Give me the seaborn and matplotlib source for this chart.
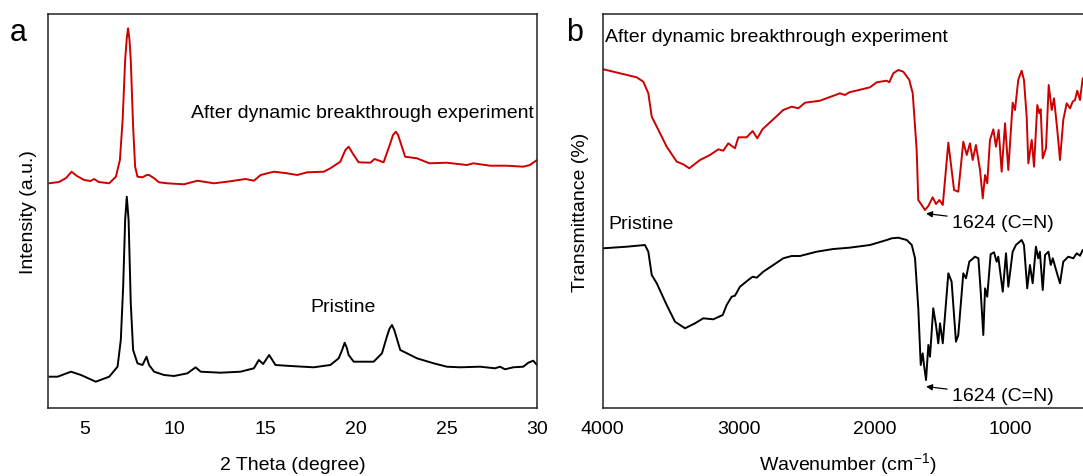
import matplotlib
matplotlib.use("Agg")
import matplotlib.pyplot as plt
import seaborn as sns
import pandas as pd

# ---------------- Panel a: XRD ----------------
xrd_after_theta = [3.07, 3.6, 4.0, 4.30, 4.6, 5.00, 5.35, 5.55, 5.8, 6.38, 6.75, 6.97, 7.12, 7.26, 7.35,
                   7.42, 7.50, 7.57, 7.70, 7.81, 7.94, 8.22, 8.45, 8.58, 8.86, 9.13, 9.59, 10.51, 11.25,
                   12.16, 12.90, 13.91, 14.37, 14.74, 15.47, 16.20, 16.76, 17.31, 18.23, 18.59, 19.14,
                   19.42, 19.60, 19.88, 20.15, 20.80, 21.03, 21.53, 21.90, 22.05, 22.21, 22.33, 22.45,
                   22.72, 23.37, 24.06, 25.02, 26.12, 26.49, 27.41, 28.33, 29.24, 29.61, 30.0]
xrd_after_int = [224.7, 226, 230, 236.3, 232, 228, 227, 229, 226, 224.7, 231.3, 248, 288, 348, 370,
                 379.7, 368, 348, 281.3, 241.3, 231.3, 230.7, 233, 233, 229.7, 225.7, 224.7, 223.7, 227.3,
                 224.7, 226.3, 229, 227.3, 233, 236.3, 234.7, 233, 235.7, 236.3, 239.7, 246.3,
                 258, 261.3, 253, 245.7, 245.3, 249, 245.7, 264.7, 273, 276.3, 273, 266.3,
                 251.3, 249.7, 244.7, 245.3, 243, 244.7, 242.3, 242.3, 241.3, 243, 248]

xrd_pristine_theta = [3.07, 3.53, 4.27, 4.82, 5.64, 6.38, 6.84, 7.02, 7.15, 7.26, 7.35, 7.45, 7.57, 7.70,
                      7.94, 8.22, 8.44, 8.58, 8.86, 9.41, 9.96, 10.70, 11.15, 11.43, 12.53, 13.63, 14.37,
                      14.64, 14.88, 15.21, 15.56, 16.39, 17.67, 18.59, 19.05, 19.24, 19.38, 19.50, 19.60,
                      19.88, 20.98, 21.44, 21.71, 21.85, 21.99, 22.12, 22.23, 22.45, 22.82, 23.37, 24.29,
                      25.02, 25.75, 26.86, 27.68, 27.96, 28.23, 28.69, 29.24, 29.52, 29.79, 30.0]
xrd_pristine_int = [31.3, 31.3, 36.3, 33, 26.3, 31.3, 41.3, 68, 121.3, 188, 211.3, 188, 104.7, 58,
                    44.7, 43, 51.3, 43, 36.3, 33, 32, 34.7, 40.7, 36.3, 35.3, 36.3, 39.7,
                    48, 44, 53, 43, 42, 40.7, 43, 49.7, 58, 65.3, 60, 53,
                    46.3, 46.3, 54.7, 71.3, 79, 83, 78, 71.3, 58, 54.7, 49.7, 44.7,
                    41.3, 40.7, 41.3, 39.7, 41.3, 38.7, 40.7, 41.3, 45.3, 47.3, 43]

xrd_xticks = [5, 10, 15, 20, 25, 30]

# ---------------- Panel b: FTIR ----------------
ftir_after_wn = [3994, 3871, 3749, 3700, 3663, 3638, 3601, 3528, 3454, 3406, 3362, 3283, 3210, 3148,
                 3112, 3075, 3026, 3001, 2940, 2896, 2862, 2822, 2744, 2671, 2609, 2560, 2511, 2401,
                 2254, 2217, 2185, 2033, 1984, 1910, 1891, 1862, 1825, 1788, 1744, 1719, 1690, 1678,
                 1653, 1629, 1604, 1572, 1548, 1523, 1498, 1457, 1415, 1384, 1347, 1322, 1298, 1278,
                 1254, 1224, 1204, 1187, 1171, 1151, 1126, 1107, 1087, 1065, 1040, 1016, 984, 967,
                 943, 918, 901, 881, 869, 844, 827, 803, 788, 778, 763, 739, 719, 697, 680, 656, 636,
                 612, 587, 562, 543, 526, 509, 489, 469]
ftir_after_t = [338.7, 334.7, 330.7, 326.3, 314.7, 291.3, 281.3, 261.3, 246.3, 243.7, 239.7, 248, 253, 258.7,
                257.3, 264.7, 259.7, 270.7, 270.7, 277, 269.7, 279, 288.7, 298, 301.3, 299.7, 305.3, 307.3,
                314.7, 313, 315.7, 320.7, 325.7, 327.3, 325.7, 334.7, 338, 336.3, 328, 314.7, 258, 208,
                203, 198, 202, 210.7, 204, 208, 203, 265.3, 218, 216.3, 266.3, 253, 264.7, 248,
                263, 238, 209.7, 233, 224.7, 268, 278.7, 261.3, 278, 236.3, 284.7, 238, 305.3, 298,
                328, 337.3, 328, 291.3, 244.7, 268, 241.3, 303, 294.7, 298.7, 249.7, 259.7, 323, 298, 309.7, 278, 248,
                288, 304.7, 299.7, 306.3, 308, 317.3, 308, 329.7]

ftir_pristine_wn = [3994, 3822, 3688, 3663, 3638, 3601, 3528, 3467, 3393, 3320, 3259, 3185, 3116, 3087,
                    3050, 3026, 2989, 2928, 2896, 2866, 2818, 2744, 2671, 2609, 2548, 2425, 2303, 2185,
                    2033, 1910, 1873, 1825, 1763, 1726, 1702, 1678, 1660, 1646, 1636, 1621, 1604, 1592,
                    1568, 1548, 1531, 1518, 1498, 1457, 1433, 1401, 1384, 1347, 1327, 1303, 1261, 1236,
                    1219, 1200, 1187, 1171, 1146, 1121, 1102, 1090, 1057, 1033, 1016, 984, 960, 918, 901,
                    877, 857, 837, 813, 796, 784, 763, 746, 721, 704, 689, 665, 636, 612, 575, 538, 513,
                    489, 469]
ftir_pristine_t = [159.7, 161.3, 163, 156.3, 133, 124.7, 103, 86.3, 79.7, 84.7, 89.7, 88.7, 93, 103,
                   111.3, 112.3, 121.3, 128, 131.3, 130.3, 136.3, 143, 149.7, 152, 152, 156.3, 159, 160.3,
                   163, 168, 169.7, 170.3, 168, 163, 149.7, 99.7, 43, 54.7, 43, 28, 63, 51.3,
                   99.7, 83, 64.7, 84.7, 64.7, 134.7, 126.3, 66.3, 73, 134.7, 129.7, 146.3, 151.3, 149.7,
                   116.3, 73, 119.7, 111.3, 153.7, 155.7, 146.3, 151.3, 116.3, 154.7, 121.3, 156.3, 163, 168, 163,
                   119.7, 143, 124.7, 161.3, 149.7, 156.3, 118, 153, 156.3, 143, 149.7, 138, 124.7, 146.3, 151.3, 149.7, 154.7,
                   152.3, 158]

ftir_xticks = [4000, 3000, 2000, 1000]

RED = "#CC0000"
BLACK = "#000000"

sns.set_theme(style="white")
plt.rcParams["font.family"] = ["Liberation Sans", "DejaVu Sans"]
plt.rcParams["mathtext.fontset"] = "custom"
plt.rcParams["mathtext.rm"] = "Liberation Sans"
plt.rcParams["mathtext.it"] = "Liberation Sans:italic"
plt.rcParams["text.color"] = "black"
plt.rcParams["axes.labelcolor"] = "black"
plt.rcParams["xtick.color"] = "black"
plt.rcParams["axes.edgecolor"] = "#222222"
plt.rcParams["axes.linewidth"] = 1.1

FS = 14
fig = plt.figure(figsize=(10.83, 4.77), dpi=100)
ax1 = fig.add_axes([48 / 1083, 1 - 409 / 477, (537 - 48) / 1083, (409 - 15) / 477])
ax2 = fig.add_axes([602.5 / 1083, 1 - 409 / 477, (1092 - 602.5) / 1083, (409 - 15) / 477])

# Panel a
df_a1 = pd.DataFrame({"x": xrd_after_theta, "y": xrd_after_int})
df_a2 = pd.DataFrame({"x": xrd_pristine_theta, "y": xrd_pristine_int})
sns.lineplot(data=df_a1, x="x", y="y", ax=ax1, color=RED, lw=1.4, sort=False, estimator=None)
sns.lineplot(data=df_a2, x="x", y="y", ax=ax1, color=BLACK, lw=1.4, sort=False, estimator=None)
ax1.set_xlim(3, 30)
ax1.set_ylim(0, 394)
ax1.set_xticks(xrd_xticks)
ax1.set_xticklabels([str(t) for t in xrd_xticks], fontsize=FS)
ax1.set_yticks([])
ax1.tick_params(axis="x", length=0, pad=9)
ax1.set_xlabel("2 Theta (degree)", fontsize=FS, labelpad=13)
ax1.set_ylabel("Intensity (a.u.)", fontsize=FS, labelpad=8)
ax1.text(29.85, 295, "After dynamic breakthrough experiment", fontsize=FS, ha="right", va="center")
ax1.text(19.31, 101, "Pristine", fontsize=FS, ha="center", va="center")

# Panel b
df_b1 = pd.DataFrame({"x": ftir_after_wn, "y": ftir_after_t})
df_b2 = pd.DataFrame({"x": ftir_pristine_wn, "y": ftir_pristine_t})
sns.lineplot(data=df_b1, x="x", y="y", ax=ax2, color=RED, lw=1.4, sort=False, estimator=None)
sns.lineplot(data=df_b2, x="x", y="y", ax=ax2, color=BLACK, lw=1.4, sort=False, estimator=None)
ax2.set_xlim(4000, 4000 - (1092 - 602.5) / 0.136)
ax2.set_ylim(0, 394)
ax2.set_xticks(ftir_xticks)
ax2.set_xticklabels([str(t) for t in ftir_xticks], fontsize=FS)
ax2.set_yticks([])
ax2.tick_params(axis="x", length=0, pad=9)
ax2.set_xlabel("Wavenumber (cm$^{-1}$)", fontsize=FS, labelpad=9)
ax2.set_ylabel("Transmittance (%)", fontsize=FS, labelpad=10)
ax2.text(3982, 371, "After dynamic breakthrough experiment", fontsize=FS, ha="left", va="center")
ax2.text(3954, 184, "Pristine", fontsize=FS, ha="left", va="center")
for ty in (185, 12):
    ax2.annotate("1624 (C=N)", xy=(1621, ty + 9.5), xytext=(1432, ty), fontsize=FS,
                 ha="left", va="center",
                 arrowprops=dict(arrowstyle="-|>", color="black", lw=0.9,
                                 shrinkA=1, shrinkB=0, mutation_scale=9))

fig.text(18 / 1083, 1 - 33 / 477, "a", fontsize=22, ha="center", va="center")
fig.text(575 / 1083, 1 - 33 / 477, "b", fontsize=22, ha="center", va="center")

fig.savefig("out.png", dpi=100)
